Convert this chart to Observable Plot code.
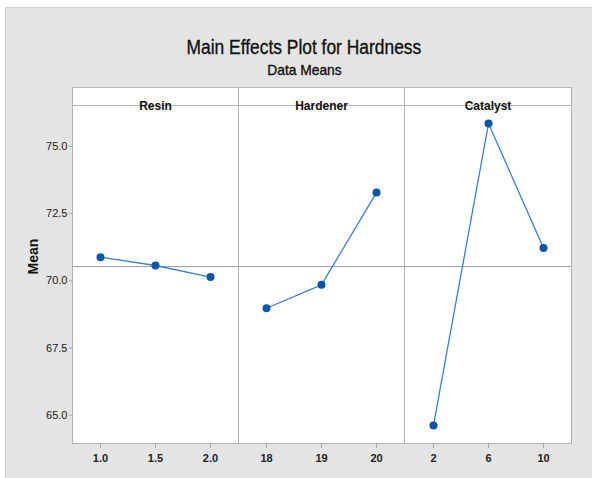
<!DOCTYPE html>
<html>
<head>
<meta charset="utf-8">
<script src="https://cdn.jsdelivr.net/npm/d3@7"></script>
<script src="https://cdn.jsdelivr.net/npm/@observablehq/plot@0.6"></script>
<style>
  html, body { margin: 0; padding: 0; background: #ffffff; }
  #wrap { position: relative; width: 592px; height: 478px; overflow: hidden; }
  #bg { position: absolute; left: 5px; top: 7px; width: 600px; height: 500px; background: #e4e4e4; border: 1px solid #d2d2d2; box-sizing: border-box; }
  .title { position: absolute; text-align: center; color: #111; font-family: "Liberation Sans", sans-serif; white-space: nowrap; -webkit-text-stroke: 0.35px #111; }
  .title span { display: inline-block; }
  #t1 { top: 37px; font-size: 20px; line-height: 20px; left: 8px; width: 592px; }
  #t1 span { transform: scaleX(0.87); }
  #t2 { top: 62px; font-size: 15px; line-height: 15px; left: 8px; width: 592px; }
  #t2 span { transform: scaleX(0.92); }
  .strip { position: absolute; top: 87px; height: 19px; background: #ffffff; border: 1px solid #b4b4b4; box-sizing: border-box; }
  .panel { position: absolute; top: 87px; }
  .panel svg { overflow: visible; }
</style>
</head>
<body>
<div id="wrap">
  <div id="bg"></div>
  <div class="title" id="t1"><span>Main Effects Plot for Hardness</span></div>
  <div class="title" id="t2"><span>Data Means</span></div>
</div>
<script>
// ---- data ----
const factors = ["Resin", "Hardener", "Catalyst"];
const resinLevels = ["1.0", "1.5", "2.0"];
const resinMeans = [70.88, 70.57, 70.14];
const hardenerLevels = ["18", "19", "20"];
const hardenerMeans = [68.98, 69.85, 73.28];
const catalystLevels = ["2", "6", "10"];
const catalystMeans = [64.62, 75.85, 71.22];
const grandMean = 70.53;
const yTicks = [65.0, 67.5, 70.0, 72.5, 75.0];
const yDomain = [63.95, 76.52];

const levelsBy = [resinLevels, hardenerLevels, catalystLevels];
const meansBy = [resinMeans, hardenerMeans, catalystMeans];

const font = '"Liberation Sans", sans-serif';
const wrap = document.getElementById("wrap");

// panel geometry (svg left, width, marginLeft, marginRight)
const geo = [
  {left: 0, width: 238, ml: 72, mr: 0},
  {left: 238, width: 166, ml: 0, mr: 0},
  {left: 404, width: 188, ml: 0, mr: 21}
];

factors.forEach((f, i) => {
  const g = geo[i];
  const data = levelsBy[i].map((l, j) => ({factor: f, level: l, mean: meansBy[i][j]}));

  // strip box
  const strip = document.createElement("div");
  strip.className = "strip";
  strip.style.left = (g.left + g.ml) + "px";
  strip.style.width = (g.width - g.ml - g.mr + 1) + "px";
  wrap.appendChild(strip);

  const marks = [
    Plot.frame({fill: "white", stroke: "#b4b4b4"}),
    Plot.ruleY([grandMean], {stroke: "#9c9c9c", strokeWidth: 1}),
    Plot.line(data, {x: "level", y: "mean", stroke: "#3f7fcf", strokeWidth: 1.3}),
    Plot.dot(data, {x: "level", y: "mean", r: 4, fill: "#0a55a8", stroke: "none"}),
    Plot.text([f], {text: d => d, frameAnchor: "top", dy: -4, fontWeight: "bold", fontSize: 12, fill: "#111"}),
    Plot.axisX({tickSize: 5, tickPadding: 6, stroke: "#a8a8a8", fill: "#222", fontWeight: "bold", fontSize: 11, label: null})
  ];
  if (i === 0) {
    marks.push(Plot.axisY({
      ticks: yTicks, tickFormat: d => d.toFixed(1), tickSize: 3, tickPadding: 2,
      stroke: "#a8a8a8", fill: "#222", fontSize: 11,
      label: null
    }));
    marks.push(Plot.text(["Mean"], {text: d => d, frameAnchor: "left", dx: -39, rotate: -90, fontWeight: "bold", fontSize: 14, fill: "#111"}));
  }

  const chart = Plot.plot({
    width: g.width,
    height: 391,
    marginLeft: g.ml,
    marginRight: g.mr,
    marginTop: 18,
    marginBottom: 35,
    style: {background: "transparent", fontFamily: font, fontSize: "11px", overflow: "visible"},
    x: {type: "point", domain: levelsBy[i], padding: 0.5},
    y: {domain: yDomain, axis: i === 0 ? undefined : null},
    marks
  });
  const holder = document.createElement("div");
  holder.className = "panel";
  holder.style.left = g.left + "px";
  holder.appendChild(chart);
  wrap.appendChild(holder);
});
</script>
</body>
</html>
